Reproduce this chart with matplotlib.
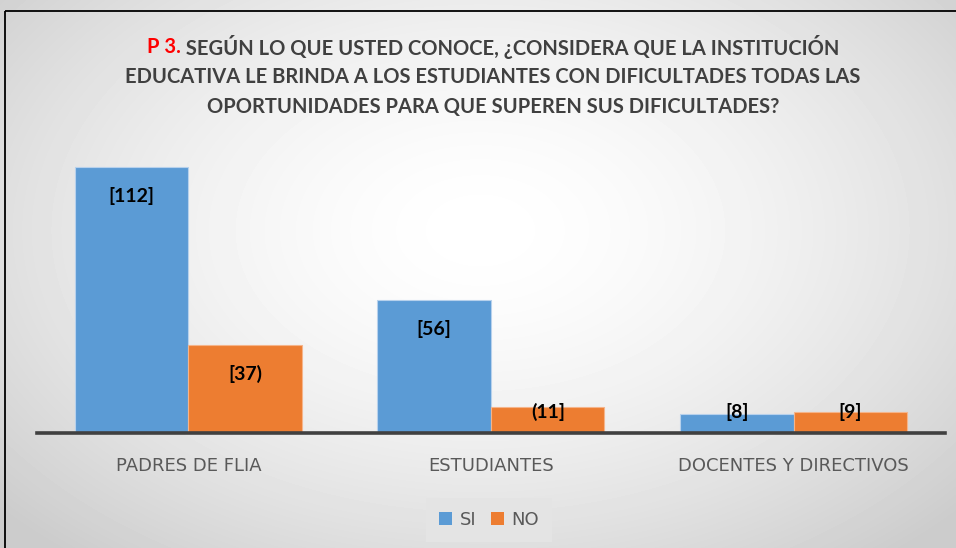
import matplotlib.pyplot as plt
import numpy as np
from matplotlib.patches import Rectangle, Patch

categorias = ['PADRES DE FLIA', 'ESTUDIANTES', 'DOCENTES Y DIRECTIVOS']
si = [112, 56, 8]
no = [37, 11, 9]
etiquetas_si = ['[112]', '[56]', '[8]']
etiquetas_no = ['[37)', '(11]', '[9]']
series = ['SI', 'NO']

azul = '#5b9bd5'
naranja = '#ed7d31'
gris = '#595959'

W, H = 956, 548
fig = plt.figure(figsize=(W / 100, H / 100), dpi=100)

# fondo con degradado radial (blanco al centro, gris en los bordes)
bg = fig.add_axes([0, 0, 1, 1], zorder=0)
yy, xx = np.mgrid[0:H, 0:W]
r = np.sqrt(((xx - 480) / 640) ** 2 + ((yy - 230) / 420) ** 2)
grad = 1 - 0.2 * np.clip(r, 0, 1) ** 1.6
bg.imshow(grad, cmap='gray', vmin=0, vmax=1, aspect='auto')
bg.set_xlim(-0.5, W - 0.5)
bg.set_ylim(H - 0.5, -0.5)
bg.axis('off')
bg.add_patch(Rectangle((4.5, 10.5), 1200, 800, fill=False, edgecolor='black', lw=1.3))

# grafico de barras
ax = fig.add_axes([37 / W, 115 / H, 908 / W, 285 / H], zorder=1)
ax.patch.set_alpha(0)
x = np.arange(len(categorias))
w = 0.375
ax.bar(x - w / 2, si, w, color=azul, edgecolor='#b7d1ec', lw=0.8)
ax.bar(x + w / 2, no, w, color=naranja, edgecolor='#f5b48a', lw=0.8)

lfont = dict(ha='center', va='center', fontsize=14, fontweight='bold',
             color='black', family='Lato')
for xi, v, lab in zip(x - w / 2, si, etiquetas_si):
    ax.text(xi, max(v - 12.2, 9), lab, **lfont)
for xi, v, lab in zip(x + w / 2, no, etiquetas_no):
    ax.text(xi, max(v - 12.2, 9), lab, **lfont)

ax.set_xlim(-0.5, 2.5)
ax.set_ylim(0, 120)
ax.set_yticks([])
ax.set_xticks(x)
ax.set_xticklabels(categorias, fontsize=13, color=gris, family='DejaVu Sans')
ax.tick_params(axis='x', length=0, pad=17)
for s in ['top', 'left', 'right']:
    ax.spines[s].set_visible(False)
ax.spines['bottom'].set_color('#404040')
ax.spines['bottom'].set_linewidth(2.6)

# titulo (primera parte en rojo)
tfont = dict(fontsize=14.5, fontweight='bold', family='Lato', va='center')
cx = 493
lineas_y = [47, 77, 107]
renderer = fig.canvas.get_renderer()
t_rojo = fig.text(0, 0, 'P 3.', color='#ff0000', ha='left', **tfont)
t_resto = fig.text(0, 0, ' SEGÚN LO QUE USTED CONOCE, ¿CONSIDERA QUE LA INSTITUCIÓN',
                   color='#404040', ha='left', **tfont)
w1 = t_rojo.get_window_extent(renderer).width
w2 = t_resto.get_window_extent(renderer).width
x0 = cx - (w1 + w2) / 2
t_rojo.set_position((x0 / W, 1 - lineas_y[0] / H))
t_resto.set_position(((x0 + w1) / W, 1 - lineas_y[0] / H))
fig.text(cx / W, 1 - lineas_y[1] / H,
         'EDUCATIVA LE BRINDA A LOS ESTUDIANTES CON DIFICULTADES TODAS LAS',
         color='#404040', ha='center', **tfont)
fig.text(cx / W, 1 - lineas_y[2] / H,
         'OPORTUNIDADES PARA QUE SUPEREN SUS DIFICULTADES?',
         color='#404040', ha='center', **tfont)

# leyenda
handles = [Patch(facecolor=azul), Patch(facecolor=naranja)]
leg = fig.legend(handles, series, loc='center', bbox_to_anchor=(489 / W, 28 / H),
                 ncol=2, frameon=True, facecolor='#e4e4e4', edgecolor='none',
                 framealpha=1, fancybox=False, handlelength=0.75,
                 handleheight=0.75, columnspacing=0.8, handletextpad=0.4,
                 borderpad=0.7, labelcolor=gris,
                 prop={'family': 'DejaVu Sans', 'size': 13})

fig.savefig('out.png', dpi=100)
